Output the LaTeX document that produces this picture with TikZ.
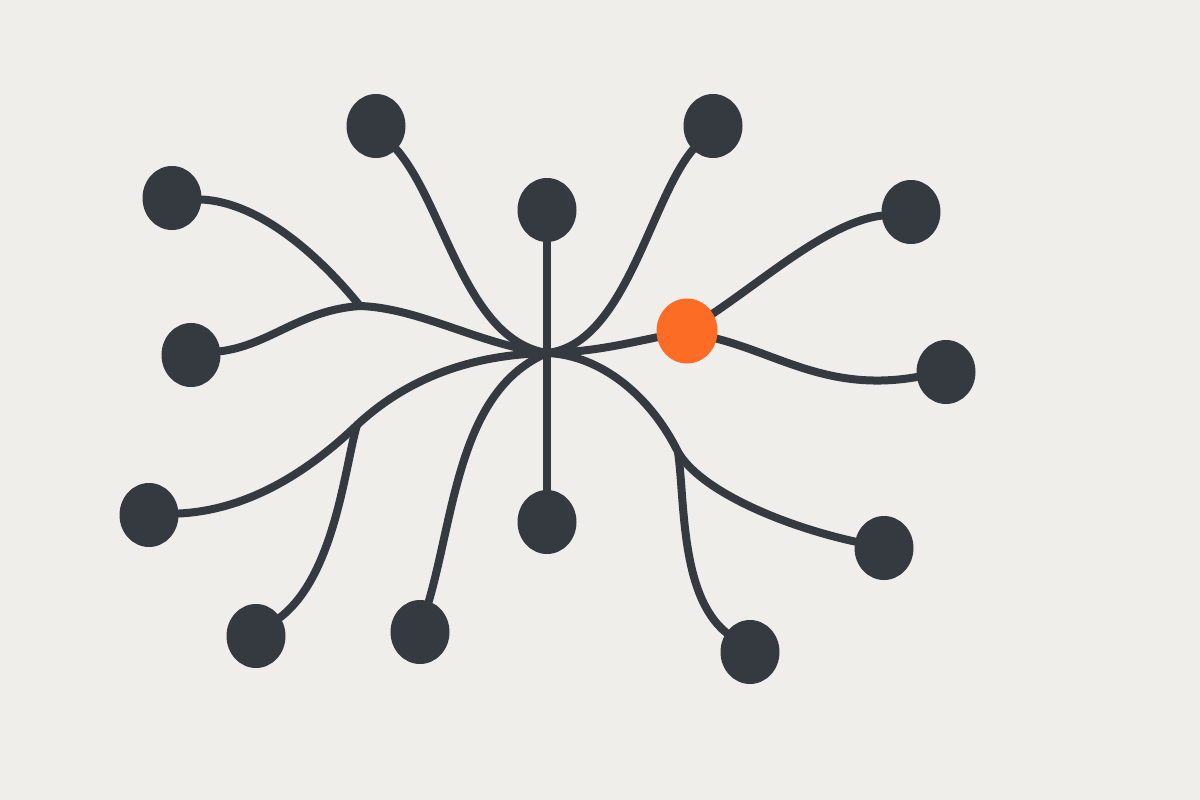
\documentclass[tikz,border=0pt]{standalone}
\usetikzlibrary{shapes.geometric}
\definecolor{bgc}{HTML}{F0EEEB}
\definecolor{ink}{HTML}{343A40}
\definecolor{accent}{HTML}{FD6C24}
\pgfdeclarelayer{bglayer}
\pgfdeclarelayer{edgelayer}
\pgfsetlayers{bglayer,edgelayer,main}
\begin{document}
\begin{tikzpicture}[x=1pt,y=-1pt,
  dot/.style={ellipse,fill=ink,minimum width=59pt,minimum height=64pt,inner sep=0pt},
  hot/.style={ellipse,fill=accent,minimum width=61pt,minimum height=65pt,inner sep=0pt},
  link/.style={draw=ink,line width=8pt,line cap=round}]
\useasboundingbox (0,0) rectangle (1200,800);
\begin{pgfonlayer}{bglayer}
  \fill[bgc] (0,0) rectangle (1200,800);
\end{pgfonlayer}
% nodes
\node[dot] (n1) at (172,198) {};
\node[dot] (n2) at (376,126) {};
\node[dot] (n3) at (547,210) {};
\node[dot] (n4) at (713,126) {};
\node[dot] (n5) at (911,212) {};
\node[hot] (o)  at (687,331) {};
\node[dot] (n7) at (946,372) {};
\node[dot] (n8) at (191,355) {};
\node[dot] (n9) at (149,515) {};
\node[dot] (n10) at (256,636) {};
\node[dot] (n11) at (420,632) {};
\node[dot] (n12) at (547,522) {};
\node[dot] (n13) at (750,652) {};
\node[dot] (n14) at (884,548) {};
\coordinate (hub) at (547,353);
\coordinate (j1) at (360,306);
\coordinate (j2) at (357,425);
\coordinate (j3) at (678,452);
\begin{pgfonlayer}{edgelayer}
  \draw[link] (n1) .. controls (270,203) and (335,275) .. (j1);
  \draw[link] (n8) .. controls (270,345) and (300,310) .. (j1) .. controls (420,308) and (480,345) .. (hub);
  \draw[link] (n2) .. controls (445,205) and (465,340) .. (hub);
  \draw[link] (n3) -- (n12);
  \draw[link] (n4) .. controls (650,200) and (625,345) .. (hub);
  \draw[link] (hub) .. controls (590,352) and (620,345) .. (o);
  \draw[link] (o) .. controls (770,275) and (830,222) .. (n5);
  \draw[link] (o) .. controls (780,355) and (830,392) .. (n7);
  \draw[link] (n9) .. controls (250,510) and (310,470) .. (j2) .. controls (400,385) and (460,355) .. (hub);
  \draw[link] (n10) .. controls (335,575) and (345,465) .. (j2);
  \draw[link] (n11) .. controls (455,510) and (460,390) .. (hub);
  \draw[link] (hub) .. controls (600,355) and (650,395) .. (j3) .. controls (700,490) and (780,525) .. (n14);
  \draw[link] (n13) .. controls (680,595) and (685,500) .. (j3);
\end{pgfonlayer}
\end{tikzpicture}
\end{document}
